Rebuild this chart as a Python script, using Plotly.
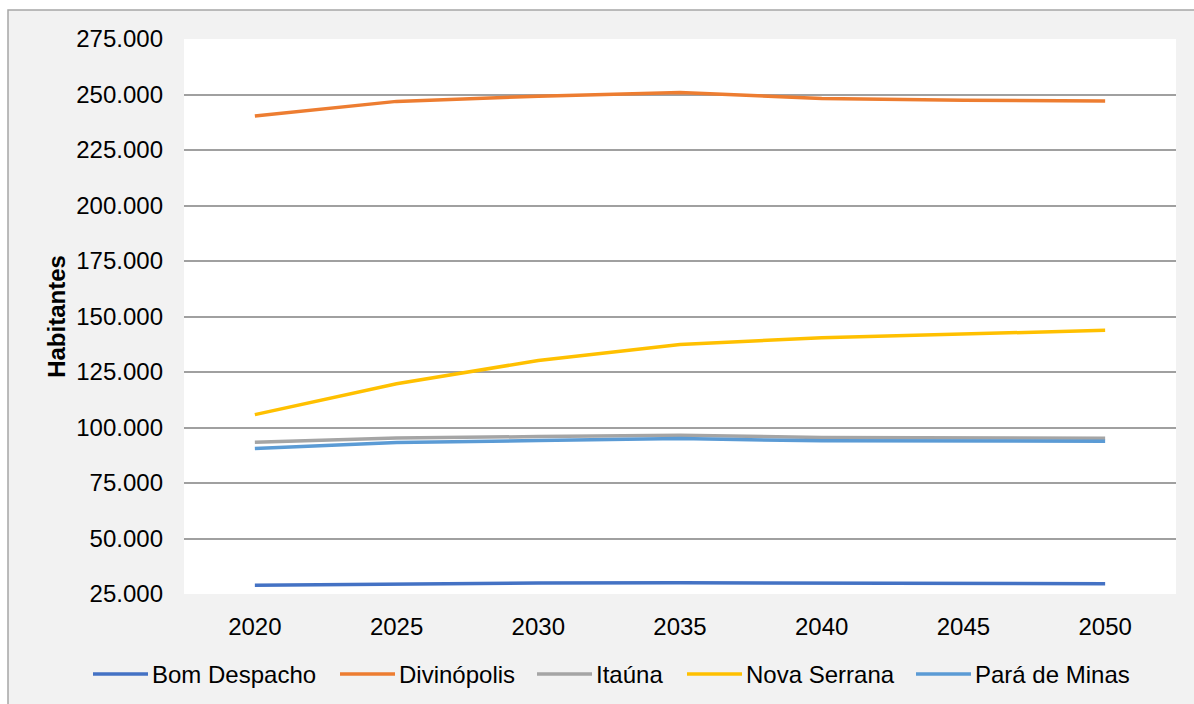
import plotly.graph_objects as go

years = ["2020", "2025", "2030", "2035", "2040", "2045", "2050"]
bom_despacho = [28900, 29500, 29900, 30100, 29800, 29700, 29600]
divinopolis = [240300, 246900, 249200, 250900, 248200, 247400, 247100]
itauna = [93400, 95300, 95900, 96500, 95500, 95200, 95200]
nova_serrana = [105800, 119700, 130200, 137400, 140400, 142200, 143800]
para_de_minas = [90500, 93200, 94100, 95000, 94000, 93800, 93800]

series = [
    ("Bom Despacho", bom_despacho, "#4472C4"),
    ("Divinópolis", divinopolis, "#ED7D31"),
    ("Itaúna", itauna, "#A5A5A5"),
    ("Nova Serrana", nova_serrana, "#FFC000"),
    ("Pará de Minas", para_de_minas, "#5B9BD5"),
]

FONT = "Liberation Sans, Arial, sans-serif"
FS = 24

fig = go.Figure()
for name, vals, color in series:
    fig.add_trace(go.Scatter(x=years, y=vals, name=name, mode="lines",
                             line=dict(color=color, width=3.5), showlegend=False))

W, H = 1194, 704
L, R, T, B = 184, 18, 39, 110
pw, ph = W - L - R, H - T - B

def px(x):
    return (x - L) / pw

def py(y):
    return (H - B - y) / ph

shapes = [
    dict(type="rect", xref="paper", yref="paper", layer="below",
         x0=px(8), x1=px(1220), y0=py(730), y1=py(10),
         fillcolor="#F2F2F2", line=dict(color="#A6A6A6", width=1.5)),
    dict(type="rect", xref="paper", yref="paper", layer="below",
         x0=0, x1=1, y0=0, y1=1, fillcolor="white", line=dict(width=0)),
]
annotations = []
legend_x = [93, 340, 537, 687, 916]
ly = py(674)
for (name, vals, color), lx in zip(series, legend_x):
    shapes.append(dict(type="line", xref="paper", yref="paper", layer="above",
                       x0=px(lx), x1=px(lx + 55), y0=ly, y1=ly,
                       line=dict(color=color, width=3.5)))
    annotations.append(dict(text=name, xref="paper", yref="paper",
                            x=px(lx + 57), y=ly, xanchor="left", yanchor="middle",
                            showarrow=False, font=dict(size=FS, family=FONT, color="#000000")))

fig.update_layout(
    width=W, height=H,
    margin=dict(l=L, r=R, t=T, b=B, pad=0),
    paper_bgcolor="white",
    plot_bgcolor="white",
    separators=",.",
    font=dict(family=FONT, size=FS, color="#000000"),
    showlegend=False,
    shapes=shapes,
    annotations=annotations,
)

fig.update_xaxes(
    type="category", range=[-0.5, 6.5], showgrid=False, showline=False,
    zeroline=False, ticks="", ticklabelstandoff=16,
    tickfont=dict(size=FS),
)
fig.update_yaxes(
    range=[25000, 275000], dtick=25000, tick0=25000, tickformat=",.0f",
    showgrid=True, gridcolor="#A0A0A0", gridwidth=1.5, zeroline=False,
    showline=False, ticks="", ticklabelstandoff=20, tickfont=dict(size=FS),
    title=dict(text="<b>Habitantes</b>", font=dict(size=FS), standoff=3),
)

fig.write_html("out.html")
